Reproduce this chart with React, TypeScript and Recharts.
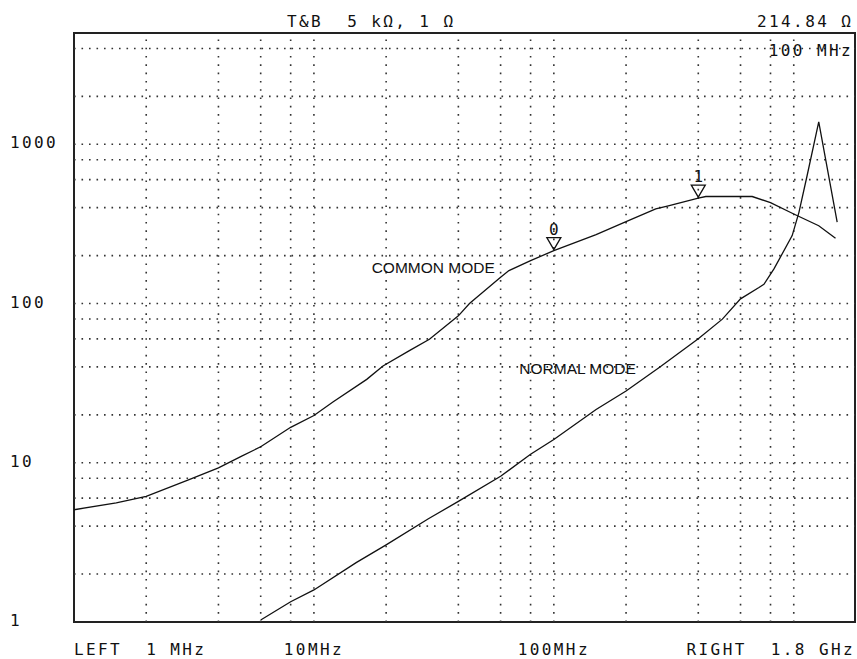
import React from "react";
import {
  LineChart,
  Line,
  XAxis,
  YAxis,
  ReferenceLine,
  ReferenceArea,
  ReferenceDot,
} from "recharts";

// frequency in MHz, impedance in ohms
const freqCommon = [1, 1.5, 2, 3, 4, 5, 6, 8, 10, 12, 16.6, 19.4, 25, 30.3, 40, 44.5, 50, 60, 65, 80, 100, 150, 200, 266, 300, 400, 430, 500, 671, 800, 1000, 1271, 1493];
const zCommon = [5.07, 5.6, 6.15, 7.8, 9.3, 11.0, 12.6, 16.7, 19.8, 24.1, 33.4, 40.5, 50.6, 59.7, 83.7, 100, 116, 146, 161, 186, 214.84, 271, 327, 393, 411, 459, 470, 470, 470, 430, 365, 308, 257];

const freqNormal = [6, 8, 10, 15, 20, 30, 40, 60, 80, 100, 150, 200, 275, 400, 504, 600, 716, 751, 827, 985, 1051, 1137, 1271, 1517];
const zNormal = [1.03, 1.34, 1.59, 2.36, 3.05, 4.45, 5.72, 8.22, 11.3, 14.0, 21.6, 28.2, 39.6, 60, 79.8, 107, 126, 132, 165, 267, 374, 637, 1381, 324];

const xTicks = [1, 10, 100, 1800];
const xTickLabels = ["LEFT  1 MHz", "10MHz", "100MHz", "RIGHT  1.8 GHz"];
const yTicks = [1, 10, 100, 1000];
const yTickLabels = ["1", "10", "100", "1000"];

const gridX = [2, 4, 6, 8, 10, 20, 40, 60, 80, 100, 200, 400, 600, 800, 1000];
const gridY = [2, 4, 6, 8, 10, 20, 40, 60, 80, 100, 200, 400, 600, 800, 1000, 2000, 4000];

const markerFreq = [100, 400];
const markerZ = [214.84, 459];
const markerLabels = ["0", "1"];

const noteFreq = [17.4, 71.8];
const noteZ = [155, 36.1];
const noteText = ["COMMON MODE", "NORMAL MODE"];

const commonData = freqCommon.map((f, i) => ({ f, z: zCommon[i] }));
const normalData = freqNormal.map((f, i) => ({ f, z: zNormal[i] }));

const MONO = "'DejaVu Sans Mono', 'Liberation Mono', monospace";
const monoStyle: React.CSSProperties = {
  fontFamily: MONO,
  fontSize: 16,
  letterSpacing: "2.4px",
  whiteSpace: "pre",
};

const XTick = (props: any) => {
  const { x, y, payload } = props;
  const i = xTicks.indexOf(payload.value);
  const anchor = i === 0 ? "start" : i === xTicks.length - 1 ? "end" : "middle";
  return (
    <text x={x} y={y + 33} textAnchor={anchor} fill="#111" style={monoStyle}>
      {xTickLabels[i]}
    </text>
  );
};

const YTick = (props: any) => {
  const { y, payload } = props;
  const i = yTicks.indexOf(payload.value);
  return (
    <text x={10} y={y + 4} textAnchor="start" fill="#111" style={monoStyle}>
      {yTickLabels[i]}
    </text>
  );
};

const Marker = (label: string) => (props: any) => {
  const { cx, cy } = props;
  return (
    <g>
      <path
        d={`M${cx - 7},${cy - 13} L${cx + 7},${cy - 13} L${cx},${cy - 1} Z`}
        fill="none"
        stroke="#111"
        strokeWidth={1.3}
      />
      <text x={cx} y={cy - 16} textAnchor="middle" fill="#111" style={{ ...monoStyle, letterSpacing: 0 }}>
        {label}
      </text>
    </g>
  );
};

const Note = (text: string) => (props: any) => {
  const { cx, cy } = props;
  return (
    <text x={cx} y={cy} fill="#111" style={{ fontFamily: "'Liberation Sans', Arial, sans-serif", fontSize: 15.5 }}>
      {text}
    </text>
  );
};

export default function App() {
  return (
    <div style={{ position: "absolute", left: 0, top: 0, width: 857, height: 659, background: "#fff" }}>
      <svg width={857} height={40} style={{ position: "absolute", left: 0, top: 0 }}>
        <text x={287} y={27} fill="#111" style={monoStyle}>T&amp;B  5 kΩ, 1 Ω</text>
        <text x={757} y={27} fill="#111" style={monoStyle}>214.84 Ω</text>
      </svg>
      <div style={{ position: "absolute", left: 0, top: 0 }}>
        <LineChart width={857} height={659} margin={{ top: 33, right: 2, bottom: 0, left: 0 }}>
          <XAxis
            dataKey="f"
            type="number"
            scale="log"
            domain={[1, 1800]}
            allowDataOverflow
            ticks={xTicks}
            tick={<XTick />}
            tickLine={false}
            axisLine={false}
            tickSize={0}
            tickMargin={0}
            height={37}
            interval={0}
          />
          <YAxis
            type="number"
            scale="log"
            domain={[1, 5000]}
            allowDataOverflow
            ticks={yTicks}
            tick={<YTick />}
            tickLine={false}
            axisLine={false}
            tickSize={0}
            width={74}
            interval={0}
          />
          {gridY.map((v) => (
            <ReferenceLine key={`gy${v}`} y={v} stroke="#333" strokeWidth={1.6} strokeDasharray="1.6 5.9" />
          ))}
          {gridX.map((v) => (
            <ReferenceLine key={`gx${v}`} x={v} stroke="#333" strokeWidth={1.6} strokeDasharray="1.6 6.7" />
          ))}
          <ReferenceArea x1={1} x2={1800} y1={1} y2={5000} fill="none" stroke="#222" strokeWidth={2} />
          <Line data={commonData} dataKey="z" type="linear" stroke="#111" strokeWidth={1.3} dot={false} isAnimationActive={false} />
          <Line data={normalData} dataKey="z" type="linear" stroke="#111" strokeWidth={1.3} dot={false} isAnimationActive={false} />
          {markerFreq.map((f, i) => (
            <ReferenceDot key={`m${i}`} x={f} y={markerZ[i]} r={0} shape={Marker(markerLabels[i])} />
          ))}
          {noteFreq.map((f, i) => (
            <ReferenceDot key={`n${i}`} x={f} y={noteZ[i]} r={0} shape={Note(noteText[i])} />
          ))}
          <ReferenceDot x={1800} y={4000} r={0} shape={(p: any) => (
            <text x={p.cx - 2} y={p.cy + 8} textAnchor="end" fill="#111" style={monoStyle}>100 MHz</text>
          )} />
        </LineChart>
      </div>
    </div>
  );
}
